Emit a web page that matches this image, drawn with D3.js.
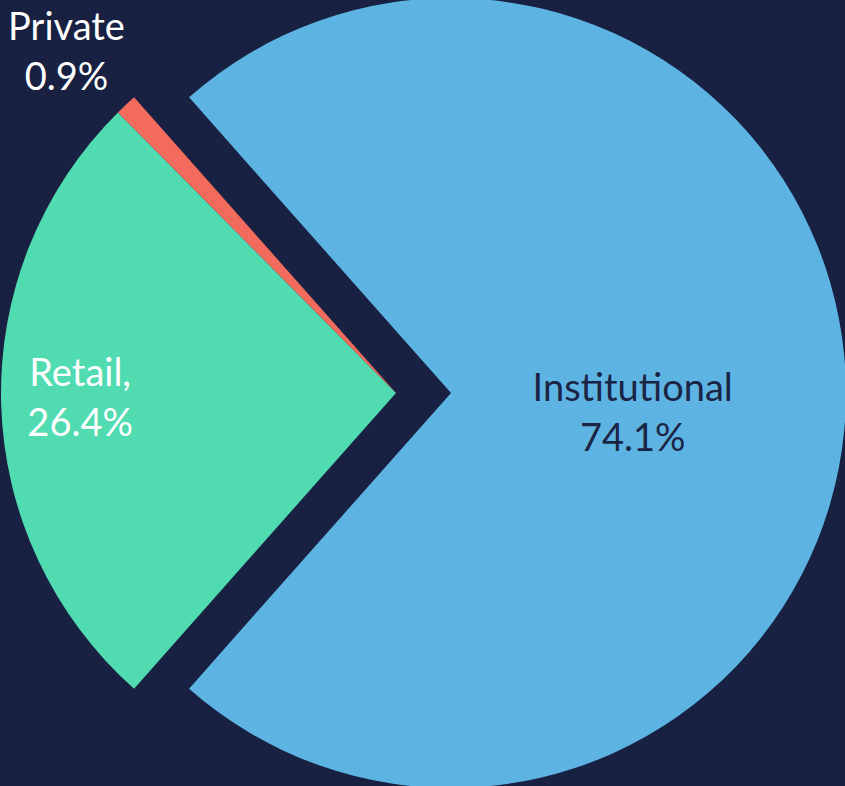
<!DOCTYPE html>
<html>
<head>
<meta charset="utf-8">
<script src="https://cdn.jsdelivr.net/npm/d3@7"></script>
<style>
  html, body { margin: 0; padding: 0; background: #182142; }
  svg { display: block; }
</style>
</head>
<body>
<svg></svg>
<script>
// data
const categories = ['Institutional', 'Retail', 'Private'];
const shares = [74.1, 26.4, 0.9];
const labelText = [['Institutional', '74.1%'], ['Retail,', '26.4%'], ['Private', '0.9%']];

const colors = ['#5db4e3', '#50dbb0', '#f26b5d'];
const textColors = ['#1b2444', '#ffffff', '#ffffff'];

let width = 845;
let height = 786;
let cx = 396, cy = 393;
let radius = 395;
let explode = 55;

let rows = categories.map((c, i) => ({ name: c, value: shares[i], idx: i }));

// institutional slice centered on the right side
let total = d3.sum(shares);
let start = Math.PI / 2 - Math.PI * shares[0] / total;

let pie = d3.pie()
  .sort(null)
  .value(d => d.value)
  .startAngle(start)
  .endAngle(start + 2 * Math.PI);

let arcs = pie(rows);

let arc = d3.arc().innerRadius(0).outerRadius(radius);

let svg = d3.select('svg')
  .attr('width', width)
  .attr('height', height);

svg.append('rect')
  .attr('width', width)
  .attr('height', height)
  .attr('fill', '#182142');

let g = svg.append('g')
  .attr('transform', `translate(${cx},${cy})`);

function offset(d){
  if(d.data.idx !== 0) return [0, 0];
  let mid = (d.startAngle + d.endAngle) / 2;
  return [explode * Math.sin(mid), -explode * Math.cos(mid)];
}

g.selectAll('.slice')
  .data(arcs)
  .enter()
    .append('path')
    .classed('slice', true)
    .attr('d', arc)
    .attr('fill', d => colors[d.data.idx])
    .attr('transform', d => `translate(${offset(d)})`);

// label radius factor per slice (inside / inside / outside)
let labelR = [0.46, 0.8, 1.22];
let labelDy = [20, -4, 11];
let lineH = 50;

let labels = g.selectAll('.label')
  .data(arcs)
  .enter()
    .append('text')
    .classed('label', true)
    .attr('text-anchor', 'middle')
    .attr('font-family', 'Lato, "Open Sans", sans-serif')
    .attr('font-size', 38)
    .attr('fill', d => textColors[d.data.idx])
    .attr('transform', d => {
      let mid = (d.startAngle + d.endAngle) / 2;
      let r = radius * labelR[d.data.idx];
      let o = offset(d);
      let x = o[0] + r * Math.sin(mid);
      let y = o[1] - r * Math.cos(mid) + labelDy[d.data.idx];
      return `translate(${x},${y})`;
    });

labels.selectAll('tspan')
  .data(d => labelText[d.data.idx])
  .enter()
    .append('tspan')
    .attr('x', 0)
    .attr('y', (t, i) => (i - 0.5) * lineH + 13)
    .text(t => t);
</script>
</body>
</html>
